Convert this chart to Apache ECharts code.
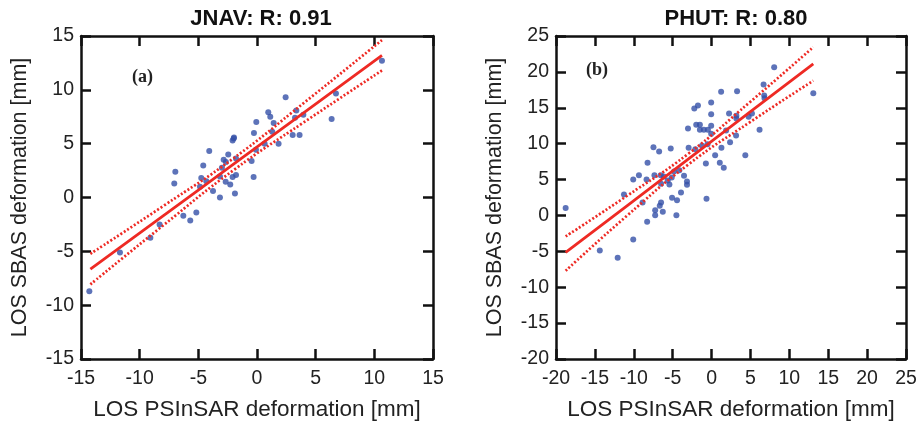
<!DOCTYPE html>
<html>
  <head>
    <meta charset="utf-8" />
    <title>JNAV / PHUT</title>
    <script src="https://cdn.jsdelivr.net/npm/echarts@6/dist/echarts.min.js"></script>
    <style>
      html,
      body {
        margin: 0;
        padding: 0;
        background: #fff;
      }
      #chart {
        width: 921px;
        height: 427px;
      }
    </style>
  </head>
  <body>
    <div id="chart"></div>
    <script type="text/javascript">
      // JNAV (a) - PSInSAR vs SBAS
      var jnavX = [-14.29, -11.68, -9.09, -8.3, -7.05, -6.96, -6.28, -5.69, -5.17, -4.86, -4.75, -4.58, -4.32, -4.07, -3.75, -3.16, -3.16, -2.99, -2.84, -2.65, -2.67, -2.45, -2.28, -2.08, -2.08, -1.99, -1.96, -1.88, -1.79, -1.79, -0.46, -0.29, -0.26, -0.09, -0.06, 0.65, 0.96, 1.13, 1.3, 1.42, 1.84, 2.44, 3.04, 3.24, 3.35, 3.63, 3.95, 6.36, 6.73, 10.65];
      var jnavY = [-8.7, -5.11, -3.74, -2.5, 1.31, 2.39, -1.7, -2.13, -1.39, 1.0, 1.8, 2.98, 1.52, 4.31, 0.6, 0.01, 1.96, 2.76, 3.51, 3.29, 1.46, 4.0, 1.21, 1.9, 5.3, 5.49, 5.58, 0.38, 2.08, 3.63, 3.38, 1.9, 5.99, 4.44, 7.01, 5.0, 7.91, 7.5, 6.11, 6.91, 5.0, 9.3, 5.8, 7.41, 8.09, 5.8, 7.69, 7.29, 9.67, 12.71];
      var jnavFitX = [-14.2, -8, -2, 4, 10.65];
      var jnavFitY = [-6.65, -1.7, 3.09, 7.89, 13.2];
      var jnavUpperY = [-5.23, -0.8, 3.64, 8.79, 14.62];
      var jnavLowerY = [-8.07, -2.6, 2.54, 6.99, 11.8];

      // PHUT (b)
      var phutX = [-18.76, -14.37, -12.07, -11.26, -10.07, -10.07, -9.34, -8.87, -8.28, -8.36, -8.23, -7.47, -7.34, -7.25, -7.25, -6.74, -6.66, -6.53, -6.49, -6.49, -6.27, -6.14, -5.63, -5.42, -5.25, -5.12, -5.08, -4.82, -4.52, -4.44, -4.14, -3.93, -3.54, -3.16, -3.16, -3.03, -2.95, -2.22, -2.09, -1.97, -1.75, -1.5, -1.5, -1.24, -0.99, -0.73, -0.65, -0.47, -0.52, -0.05, -0.05, -0.05, -0.05, 0.46, 1.06, 1.23, 1.27, 1.57, 1.87, 2.25, 2.38, 3.15, 3.19, 3.28, 3.19, 4.34, 4.77, 5.19, 6.17, 6.69, 6.77, 6.81, 8.05, 13.08];
      var phutY = [1.02, -4.88, -5.9, 2.92, -3.35, 5.01, 5.61, 1.8, -0.89, 5.01, 7.33, 9.51, 5.61, 0.74, 0.04, 8.91, 1.34, 5.61, 1.8, 4.4, 0.5, 5.43, 4.87, 4.31, 9.33, 5.29, 2.45, 6.12, 0.04, 2.13, 6.31, 3.2, 5.52, 4.73, 4.27, 12.11, 9.42, 14.9, 9.23, 12.62, 15.31, 12.62, 11.93, 9.7, 11.93, 7.24, 2.31, 11.93, 9.93, 15.73, 14.11, 12.48, 11.37, 8.4, 7.33, 17.22, 9.42, 6.63, 11.83, 14.2, 10.21, 11.14, 13.88, 17.31, 13.5, 8.4, 13.74, 14.2, 11.93, 18.24, 16.71, 16.34, 20.65, 17.03];
      var phutFitX = [-18.76, -11, -3, 5, 13.08];
      var phutFitY = [-5.16, 1.24, 7.84, 14.45, 21.12];
      var phutUpperY = [-2.93, 2.64, 8.59, 15.85, 23.45];
      var phutLowerY = [-7.71, -0.16, 7.09, 13.05, 18.77];

      var titles = ["JNAV: R: 0.91", "PHUT: R: 0.80"];
      var panelTags = ["(a)", "(b)"];
      var xName = "LOS PSInSAR deformation [mm]";
      var yName = "LOS SBAS deformation [mm]";

      var dotColor = "#3550a8";
      var redColor = "#ee2a24";
      var fontFamily = "Liberation Sans, Arial, sans-serif";

      function zip(xs, ys) {
        var out = [];
        for (var i = 0; i < xs.length; i++) {
          out.push([xs[i], ys[i]]);
        }
        return out;
      }

      // 主坐标轴（带标签）
      function mainAxis(grid, pos, min, max, isY) {
        return {
          type: "value",
          gridIndex: grid,
          position: pos,
          min: min,
          max: max,
          interval: 5,
          name: isY ? yName : xName,
          nameLocation: "middle",
          nameGap: isY ? 50 : 39,
          nameTextStyle: { color: "#222", fontSize: isY ? 21.5 : 22.5, fontFamily: fontFamily },
          axisLine: { show: true, onZero: false, lineStyle: { color: "#111", width: 2.5 } },
          axisTick: { show: true, inside: true, length: 10, lineStyle: { color: "#111", width: 2.5 } },
          axisLabel: { color: "#222", fontSize: 19.5, fontFamily: fontFamily, margin: isY ? 7 : 10 },
          splitLine: { show: false },
        };
      }

      // 镜像坐标轴（只画刻度）
      function mirrorAxis(grid, pos, min, max) {
        return {
          type: "value",
          gridIndex: grid,
          position: pos,
          min: min,
          max: max,
          interval: 5,
          axisLine: { show: true, onZero: false, lineStyle: { color: "#111", width: 2.5 } },
          axisTick: { show: true, inside: true, length: 10, lineStyle: { color: "#111", width: 2.5 } },
          axisLabel: { show: false },
          splitLine: { show: false },
        };
      }

      function lineSeries(idx, xs, ys, dotted) {
        return {
          type: "line",
          xAxisIndex: idx,
          yAxisIndex: idx,
          data: zip(xs, ys),
          smooth: true,
          symbol: "none",
          silent: true,
          z: 3,
          lineStyle: dotted
            ? { color: redColor, width: 2.7, type: [2, 2] }
            : { color: redColor, width: 2.8 },
        };
      }

      function scatterSeries(idx, xs, ys) {
        return {
          type: "scatter",
          xAxisIndex: idx,
          yAxisIndex: idx,
          data: zip(xs, ys),
          symbolSize: 6,
          itemStyle: { color: dotColor },
          z: 2,
        };
      }

      var myChart = echarts.init(document.getElementById("chart"), null, { renderer: "canvas" });

      var option = {
        backgroundColor: "#fff",
        animation: false,
        title: [
          {
            text: titles[0],
            left: 256,
            top: 3,
            textAlign: "center",
            textStyle: { fontSize: 22, fontWeight: "bold", color: "#111", fontFamily: fontFamily },
          },
          {
            text: titles[1],
            left: 731,
            top: 3,
            textAlign: "center",
            textStyle: { fontSize: 22, fontWeight: "bold", color: "#111", fontFamily: fontFamily },
          },
          {
            text: panelTags[0],
            left: 127,
            top: 63,
            textStyle: { fontSize: 18, fontWeight: "bold", color: "#222", fontFamily: "Liberation Serif, Times New Roman, serif" },
          },
          {
            text: panelTags[1],
            left: 581,
            top: 56,
            textStyle: { fontSize: 18, fontWeight: "bold", color: "#222", fontFamily: "Liberation Serif, Times New Roman, serif" },
          },
        ],
        grid: [
          { left: 81, top: 36, width: 352, height: 323 },
          { left: 556, top: 36, width: 350, height: 323 },
        ],
        xAxis: [
          mainAxis(0, "bottom", -15, 15, false),
          mirrorAxis(0, "top", -15, 15),
          mainAxis(1, "bottom", -20, 25, false),
          mirrorAxis(1, "top", -20, 25),
        ],
        yAxis: [
          mainAxis(0, "left", -15, 15, true),
          mirrorAxis(0, "right", -15, 15),
          mainAxis(1, "left", -20, 25, true),
          mirrorAxis(1, "right", -20, 25),
        ],
        series: [
          scatterSeries(0, jnavX, jnavY),
          lineSeries(0, jnavFitX, jnavFitY, false),
          lineSeries(0, jnavFitX, jnavUpperY, true),
          lineSeries(0, jnavFitX, jnavLowerY, true),
          scatterSeries(2, phutX, phutY),
          lineSeries(2, phutFitX, phutFitY, false),
          lineSeries(2, phutFitX, phutUpperY, true),
          lineSeries(2, phutFitX, phutLowerY, true),
        ],
      };

      myChart.setOption(option);
    </script>
  </body>
</html>
